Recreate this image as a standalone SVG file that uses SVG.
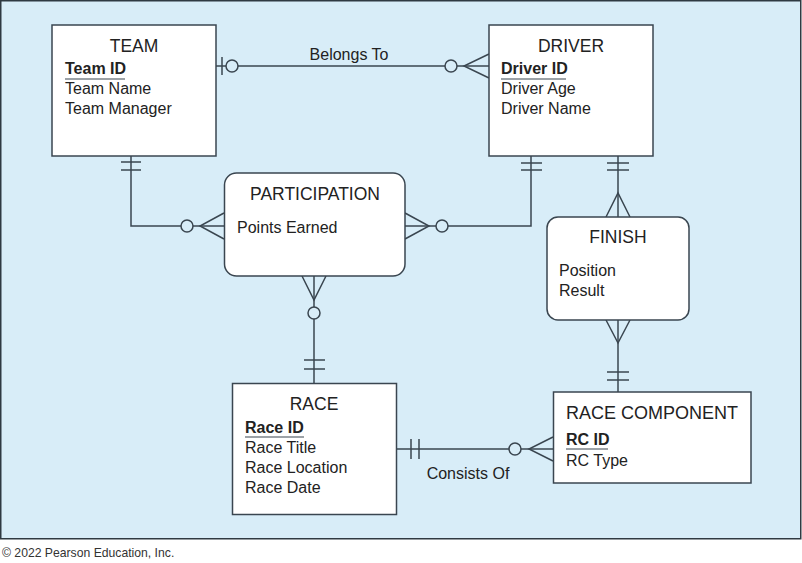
<svg xmlns="http://www.w3.org/2000/svg" width="802" height="563" viewBox="0 0 802 563">
<style>
.bg{fill:#d8edf8;stroke:#2f3a42;stroke-width:1.5}
.box{fill:#fff;stroke:#3a4650;stroke-width:1.5}
.ln{fill:none;stroke:#3a4650;stroke-width:1.5}
.ci{fill:#d8edf8;stroke:#3a4650;stroke-width:1.5}
text{font-family:"Liberation Sans",Arial,sans-serif;fill:#222}
.t{font-size:17.5px;text-anchor:middle}
.a{font-size:16px}
.k{font-size:16px;font-weight:bold}
.lab{font-size:16px;text-anchor:middle}
</style>
<rect class="bg" x="0.75" y="0.75" width="800" height="538"/>
<text x="2" y="557" style="font-size:12.2px;fill:#333">© 2022 Pearson Education, Inc.</text>

<g id="connectors">
  <!-- Belongs To -->
  <line class="ln" x1="216" y1="66" x2="489" y2="66"/>
  <line class="ln" x1="222" y1="57" x2="222" y2="75"/>
  <circle class="ci" cx="232" cy="66" r="6"/>
  <circle class="ci" cx="451" cy="66" r="6"/>
  <polyline class="ln" points="489,54 464,66 489,78"/>
  <text class="lab" x="349" y="60">Belongs To</text>
  <!-- TEAM - PARTICIPATION -->
  <polyline class="ln" points="131,156 131,226 224,226"/>
  <line class="ln" x1="121" y1="162" x2="141" y2="162"/>
  <line class="ln" x1="121" y1="170" x2="141" y2="170"/>
  <circle class="ci" cx="187" cy="226" r="6"/>
  <polyline class="ln" points="224,213 200,226 224,239"/>
  <!-- DRIVER - PARTICIPATION -->
  <polyline class="ln" points="531,156 531,226 405,226"/>
  <line class="ln" x1="521" y1="163" x2="542" y2="163"/>
  <line class="ln" x1="521" y1="170" x2="542" y2="170"/>
  <circle class="ci" cx="442" cy="226" r="6"/>
  <polyline class="ln" points="405,213 429,226 405,239"/>
  <!-- DRIVER - FINISH -->
  <line class="ln" x1="618" y1="156" x2="618" y2="217"/>
  <line class="ln" x1="607" y1="163" x2="629" y2="163"/>
  <line class="ln" x1="607" y1="170" x2="629" y2="170"/>
  <polyline class="ln" points="606,217 618,193 630,217"/>
  <!-- FINISH - RACE COMPONENT -->
  <line class="ln" x1="618" y1="320" x2="618" y2="392"/>
  <polyline class="ln" points="606,320 618,343 630,320"/>
  <line class="ln" x1="607" y1="372" x2="629" y2="372"/>
  <line class="ln" x1="607" y1="380" x2="629" y2="380"/>
  <!-- PARTICIPATION - RACE -->
  <line class="ln" x1="314" y1="276" x2="314" y2="383"/>
  <polyline class="ln" points="302,276 314,300 326,276"/>
  <circle class="ci" cx="314" cy="313" r="6"/>
  <line class="ln" x1="304" y1="360" x2="325" y2="360"/>
  <line class="ln" x1="304" y1="369" x2="325" y2="369"/>
  <!-- RACE - RACE COMPONENT -->
  <line class="ln" x1="397" y1="449" x2="553" y2="449"/>
  <line class="ln" x1="411" y1="439" x2="411" y2="459"/>
  <line class="ln" x1="419" y1="439" x2="419" y2="459"/>
  <circle class="ci" cx="515" cy="449" r="6"/>
  <polyline class="ln" points="553,437 529,449 553,461"/>
  <text class="lab" x="468" y="479">Consists Of</text>
</g>

<g id="team">
  <rect class="box" x="52" y="25" width="164" height="131"/>
  <text class="t" x="134" y="52">TEAM</text>
  <text class="k" x="65" y="74">Team ID</text>
  <line class="ln" x1="65" y1="79" x2="125" y2="79" style="stroke-width:1.2"/>
  <text class="a" x="65" y="94">Team Name</text>
  <text class="a" x="65" y="114">Team Manager</text>
</g>

<g id="driver">
  <rect class="box" x="489" y="25" width="164" height="131"/>
  <text class="t" x="571" y="52">DRIVER</text>
  <text class="k" x="501" y="74">Driver ID</text>
  <line class="ln" x1="501" y1="79" x2="566" y2="79" style="stroke-width:1.2"/>
  <text class="a" x="501" y="94">Driver Age</text>
  <text class="a" x="501" y="114">Driver Name</text>
</g>

<g id="participation">
  <rect class="box" x="224.5" y="173" width="180.5" height="103" rx="12"/>
  <text class="t" x="315" y="200">PARTICIPATION</text>
  <text class="a" x="237" y="233">Points Earned</text>
</g>

<g id="finish">
  <rect class="box" x="547" y="217" width="142" height="103" rx="11"/>
  <text class="t" x="618" y="243">FINISH</text>
  <text class="a" x="559" y="276">Position</text>
  <text class="a" x="559" y="296">Result</text>
</g>

<g id="race">
  <rect class="box" x="232.5" y="383.5" width="164" height="131"/>
  <text class="t" x="314" y="410">RACE</text>
  <text class="k" x="245" y="433">Race ID</text>
  <line class="ln" x1="245" y1="437" x2="304" y2="437" style="stroke-width:1.2"/>
  <text class="a" x="245" y="453">Race Title</text>
  <text class="a" x="245" y="473">Race Location</text>
  <text class="a" x="245" y="493">Race Date</text>
</g>

<g id="race-component">
  <rect class="box" x="553.5" y="392" width="197.5" height="91"/>
  <text x="566" y="419" style="font-size:18px">RACE COMPONENT</text>
  <text class="k" x="566" y="445">RC ID</text>
  <line class="ln" x1="566" y1="449" x2="608" y2="449" style="stroke-width:1.2"/>
  <text class="a" x="566" y="466">RC Type</text>
</g>
</svg>
